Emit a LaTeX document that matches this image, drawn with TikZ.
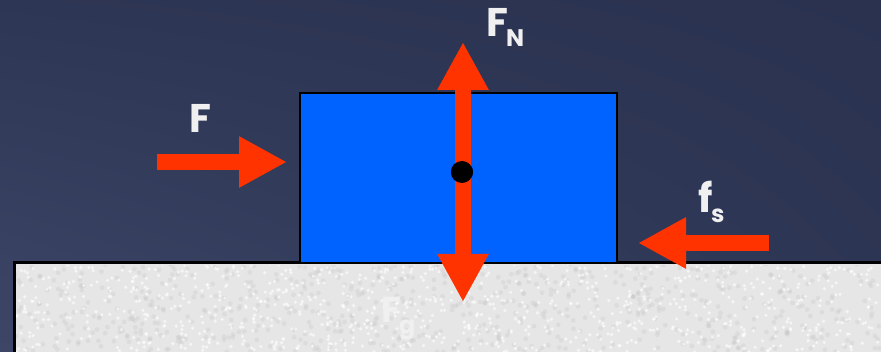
\documentclass[tikz,border=0pt]{standalone}
\usepackage{fontspec}
\setmainfont{Poppins}
\usetikzlibrary{arrows.meta,shadings}
\definecolor{bgA}{RGB}{62,70,104}
\definecolor{bgB}{RGB}{42,50,80}
\definecolor{blockblue}{RGB}{0,98,255}
\definecolor{forcered}{RGB}{255,51,0}
\definecolor{groundgray}{RGB}{230,230,230}
\definecolor{labelwhite}{RGB}{240,240,240}
\begin{document}
\begin{tikzpicture}[x=1pt,y=-1pt,
  force/.style={draw=forcered, line width=16pt, -{Triangle[width=48pt,length=48pt]}},
  lbl/.style={text=labelwhite, font=\fontsize{40}{40}\selectfont\bfseries, inner sep=0pt, anchor=base west},
  sublbl/.style={text=labelwhite, font=\fontsize{24}{24}\selectfont\bfseries, inner sep=0pt, anchor=base west},
  boxed/.style={draw=black, line width=2pt, inner sep=0pt, anchor=north west}]
\useasboundingbox (0,0) rectangle (881,352);
\shade[lower left=bgA, upper right=bgB, lower right=bgB!80!bgA, upper left=bgB!80!bgA] (0,0) rectangle (881,352);
% ground
\node[boxed, fill=groundgray, minimum width=900pt, minimum height=120pt] (ground) at (14,262) {};
\begin{scope}
  \clip (16,266) rectangle (881,352);
  \pgfmathsetseed{7}
  \foreach \i in {1,...,700}{
    \pgfmathsetmacro{\px}{15+rnd*866}
    \pgfmathsetmacro{\py}{263+rnd*89}
    \fill[black!25, opacity=0.25] (\px,\py) circle (2.4pt);
  }
  \foreach \i in {1,...,900}{
    \pgfmathsetmacro{\px}{15+rnd*866}
    \pgfmathsetmacro{\py}{263+rnd*89}
    \fill[white, opacity=0.6] (\px,\py) circle (1.8pt);
  }
\end{scope}
\draw[black, line width=2pt] (ground.south west) -- (ground.north west) -- (ground.north east);
% block
\node[boxed, fill=blockblue, minimum width=317pt, minimum height=170pt] (block) at (299,92) {};
\node[circle, fill=black, minimum size=22pt, inner sep=0pt] (dot) at (462,172) {};
% arrow ends
\coordinate (fnTip) at (463,42);
\coordinate (fgTip) at (463,302);
\coordinate (fTail) at (157,162);
\coordinate (fTip) at (287,162);
\coordinate (fsTail) at (769,243);
\coordinate (fsTip) at (638,243);
\draw[force] (dot.center -| fnTip) -- (fnTip);
\draw[force] (dot.center -| fgTip) -- (fgTip);
\draw[force] (fTail) -- (fTip);
\draw[force] (fsTail) -- (fsTip);
\node[circle, fill=black, minimum size=22pt, inner sep=0pt] at (dot) {};
% labels
\node[lbl] (lF) at (189,133) {F};
\node[lbl] (lFN) at (486,37) {F};
\node[sublbl] (lFNs) at (506,47) {N};
\node[lbl] (lfs) at (698,213) {f};
\node[sublbl] (lfss) at (711,223) {s};
\node[lbl, font=\fontsize{36}{36}\selectfont\bfseries] (lFg) at (381,323) {F};
\node[sublbl] (lFgs) at (399,334) {g};
\end{tikzpicture}
\end{document}
